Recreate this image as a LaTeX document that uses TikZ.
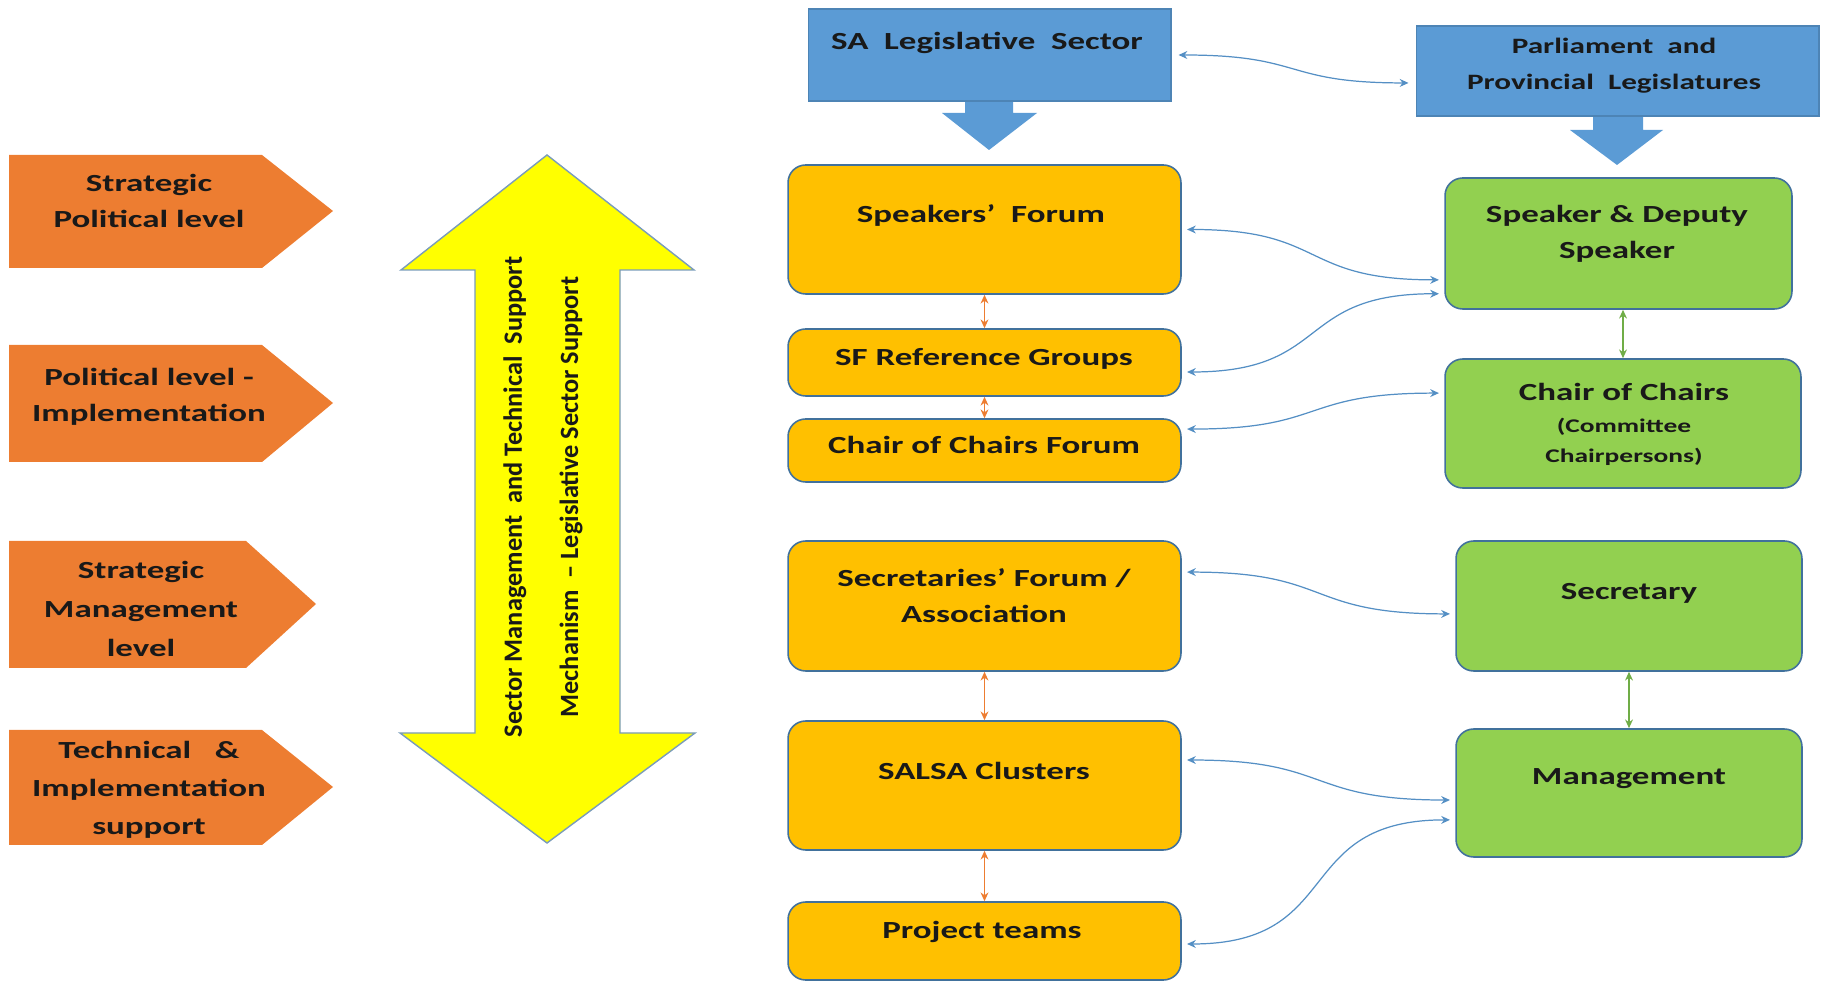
\documentclass[tikz,border=0pt]{standalone}
\usepackage{fontspec}
\setmainfont[FakeStretch=1.42]{Carlito}
\newfontfamily\rotfont{Carlito}
\usepackage{tikz}
\usetikzlibrary{arrows.meta}
\definecolor{lvlorange}{HTML}{ED7D31}
\definecolor{hubblue}{HTML}{5B9BD5}
\definecolor{hubedge}{HTML}{41719C}
\definecolor{forumgold}{HTML}{FFC000}
\definecolor{housegreen}{HTML}{92D050}
\definecolor{supportyellow}{HTML}{FFFF00}
\definecolor{tiegreen}{HTML}{70AD47}

\begin{document}
\begin{tikzpicture}[>={Stealth[length=5pt,width=4.5pt]}, x=0.02cm, y=-0.02cm,
  forum/.style={rectangle, rounded corners=10pt, fill=forumgold, draw=hubedge,
    line width=0.9pt, minimum width=7.86cm},
  house/.style={rectangle, rounded corners=10pt, fill=housegreen, draw=hubedge,
    line width=0.9pt},
  hub/.style={rectangle, fill=hubblue, draw=hubblue!85!black, line width=0.6pt},
  lbl/.style={align=center, inner sep=0pt, text=black!90,
    font=\bfseries\fontsize{14}{20.5}\selectfont},
  link/.style={<->, hubblue!92!black, line width=0.7pt, looseness=1.4},
  tie/.style={<->, lvlorange, line width=0.8pt},
  gtie/.style={<->, tiegreen, line width=0.8pt}]

  \useasboundingbox (0,0) rectangle (1823,982);

  % level tags
  \fill[lvlorange] (9,155) -- (262,155) -- (333,211) -- (262,268) -- (9,268) -- cycle;
  \fill[lvlorange] (9,345) -- (262,345) -- (333,403) -- (262,462) -- (9,462) -- cycle;
  \fill[lvlorange] (9,541) -- (246,541) -- (316,604) -- (246,668) -- (9,668) -- cycle;
  \fill[lvlorange] (9,730) -- (262,730) -- (333,787) -- (262,845) -- (9,845) -- cycle;
  \node[lbl] (tag1) at (149,201) {Strategic\\Political level};
  \node[lbl] (tag2) at (149,397) {Political level -\\Implementation};
  \node[lbl, font=\bfseries\fontsize{14}{22}\selectfont] (tag3) at (141,609)
        {Strategic\\Management\\level};
  \node[lbl, font=\bfseries\fontsize{14}{21.5}\selectfont] (tag4) at (149,790)
        {Technical \ \ \&\\Implementation\\support};

  % support arrow
  \draw[fill=supportyellow, draw=hubedge!70, line width=0.8pt]
        (547,155) -- (694,270) -- (620,270) -- (620,733) -- (695,733)
        -- (547,843) -- (400,733) -- (475,733) -- (475,270) -- (401,270) -- cycle;
  \node[rotate=90, align=center, text=black!90,
        font=\rotfont\bfseries\fontsize{15}{32}\selectfont] (mech) at (543,497)
        {Sector Management \ and Technical \ Support\\Mechanism \ \textendash\ Legislative Sector Support};

  % sector and legislatures
  \fill[hubblue] (965,100) -- (1013,100) -- (1013,113) -- (1037,113) -- (989,150)
        -- (942,113) -- (965,113) -- cycle;
  \fill[hubblue] (1593,115) -- (1643,115) -- (1643,130) -- (1663,130) -- (1617,165)
        -- (1570,130) -- (1593,130) -- cycle;
  \node[hub, minimum width=7.26cm, minimum height=1.84cm] (sal) at (989.5,55) {};
  \node[hub, minimum width=8.06cm, minimum height=1.8cm] (parl) at (1617.5,71) {};
  \node[lbl] (saltx) at (987,43) {SA \ Legislative \ Sector};
  \node[lbl, font=\bfseries\fontsize{12.5}{20.5}\selectfont] (parltx) at (1614,66)
        {Parliament \ and\\Provincial \ Legislatures};

  % forums
  \node[forum, minimum height=2.58cm] (sf) at (984.5,229.5) {};
  \node[forum, minimum height=1.34cm] (sfrg) at (984.5,362.5) {};
  \node[forum, minimum height=1.26cm] (cocf) at (984.5,450.5) {};
  \node[forum, minimum height=2.6cm] (secf) at (984.5,606) {};
  \node[forum, minimum height=2.58cm] (salsa) at (984.5,785.5) {};
  \node[forum, minimum height=1.56cm] (proj) at (984.5,941) {};
  \node[lbl] (sftx) at (981,215) {Speakers' \ Forum};
  \node[lbl] (sfrgtx) at (984,359) {SF Reference Groups};
  \node[lbl] (cocftx) at (984,445) {Chair of Chairs Forum};
  \node[lbl] (secftx) at (984,596) {Secretaries' Forum /\\Association};
  \node[lbl] (salsatx) at (984,771) {SALSA Clusters};
  \node[lbl] (projtx) at (982,932) {Project teams};

  % office bearers
  \node[house, minimum width=6.94cm, minimum height=2.62cm] (sp) at (1618.5,243.5) {};
  \node[house, minimum width=7.12cm, minimum height=2.58cm] (coc) at (1623,423.5) {};
  \node[house, minimum width=6.92cm, minimum height=2.6cm] (sec) at (1629,606) {};
  \node[house, minimum width=6.92cm, minimum height=2.56cm] (mgmt) at (1629,793) {};
  \node[lbl] (sptx) at (1617,233.5) {Speaker \& Deputy\\Speaker};
  \node[lbl] (coctx) at (1624,392) {Chair of Chairs};
  \node[lbl, font=\bfseries\fontsize{11}{17}\selectfont] (cocsub) at (1624,442)
        {(Committee\\Chairpersons)};
  \node[lbl] (sectx) at (1629,593) {Secretary};
  \node[lbl] (mgmttx) at (1629,779) {Management};

  % vertical ties
  \draw[tie] (sf.south) -- (sfrg.north);
  \draw[tie] (sfrg.south) -- (cocf.north);
  \draw[tie] (secf.south) -- (salsa.north);
  \draw[tie] (salsa.south) -- (proj.north);
  \draw[gtie] (coc.north |- sp.south) -- (coc.north);
  \draw[gtie] (sec.south) -- (mgmt.north);

  % links
  \draw[link] ([xshift=4pt]sal.east) to[out=0,in=180] ([xshift=-4pt,yshift=-6.8pt]parl.west);
  \draw[link] ([xshift=3pt]sf.east) to[out=0,in=180] ([xshift=-3pt,yshift=-20.7pt]sp.west);
  \draw[link] ([xshift=3pt,yshift=-5.4pt]sfrg.east) to[out=0,in=180] ([xshift=-3pt,yshift=-28.6pt]sp.west);
  \draw[link] ([xshift=3pt,yshift=12.2pt]cocf.east) to[out=0,in=180] ([xshift=-3pt,yshift=17.3pt]coc.west);
  \draw[link] ([xshift=3pt,yshift=19.3pt]secf.east) to[out=0,in=180] ([xshift=-3pt,yshift=-4.5pt]sec.west);
  \draw[link] ([xshift=3pt,yshift=14.5pt]salsa.east) to[out=0,in=180] ([xshift=-3pt,yshift=-4pt]mgmt.west);
  \draw[link] ([xshift=3pt,yshift=-1.7pt]proj.east) to[out=0,in=180] ([xshift=-3pt,yshift=-15.3pt]mgmt.west);
\end{tikzpicture}
\end{document}
